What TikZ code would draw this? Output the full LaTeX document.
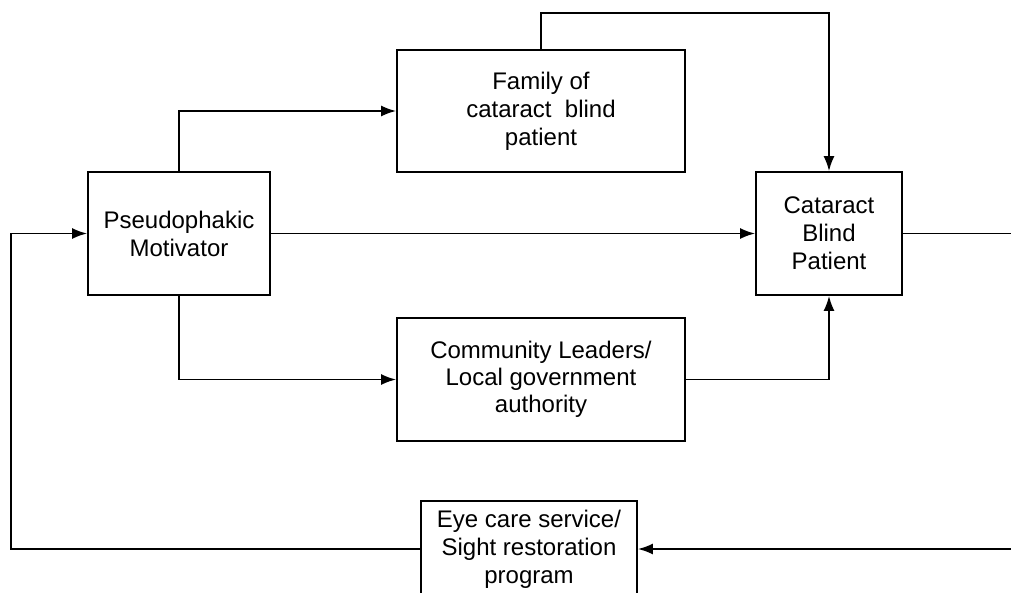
\documentclass[tikz,border=0pt]{standalone}
\usepackage{fontspec}
\setmainfont{Liberation Sans}
\usetikzlibrary{arrows.meta}

\begin{document}
\begin{tikzpicture}[x=1pt,y=-1pt,>={Latex[length=15pt,width=11pt]},line width=1.8pt,
  blk/.style={draw,align=center,font=\fontsize{24}{28}\selectfont}]
  \clip (0,0) rectangle (1011,592); % 図の範囲
  \node[blk,minimum width=182,minimum height=123](motiv) at (179,233.5) {Pseudophakic\\Motivator};
  \node[blk,minimum width=288,minimum height=122](family) at (541,111) {Family of\\cataract\ \ blind\\patient};
  \node[blk,minimum width=146,minimum height=123](patient) at (829,233.5) {Cataract\\Blind\\Patient};
  \node[blk,minimum width=288,minimum height=123,font=\fontsize{24}{27}\selectfont](leader) at (541,379.5) {Community Leaders/\\Local government\\authority};
  \node[blk,minimum width=216,minimum height=96](eyecare) at (529,549) {Eye care service/\\Sight restoration\\program};
  \coordinate (loopR) at (1030,549); % 右端（図の外）
  \coordinate (loopL) at (11,549);
  \draw[->] (motiv.north) |- (family.west);
  \draw[->] (family.north) -- ++(0,-36) -| (patient.north);
  \draw[->] (motiv.east) -- (patient.west);
  \draw[->] (motiv.south) |- (leader.west);
  \draw[->] (leader.east) -| (patient.south);
  \draw[->] (patient.east) -| (loopR) -- (eyecare.east); % フィードバック
  \draw[->] (eyecare.west) -- (loopL) |- (motiv.west);
\end{tikzpicture}
\end{document}
